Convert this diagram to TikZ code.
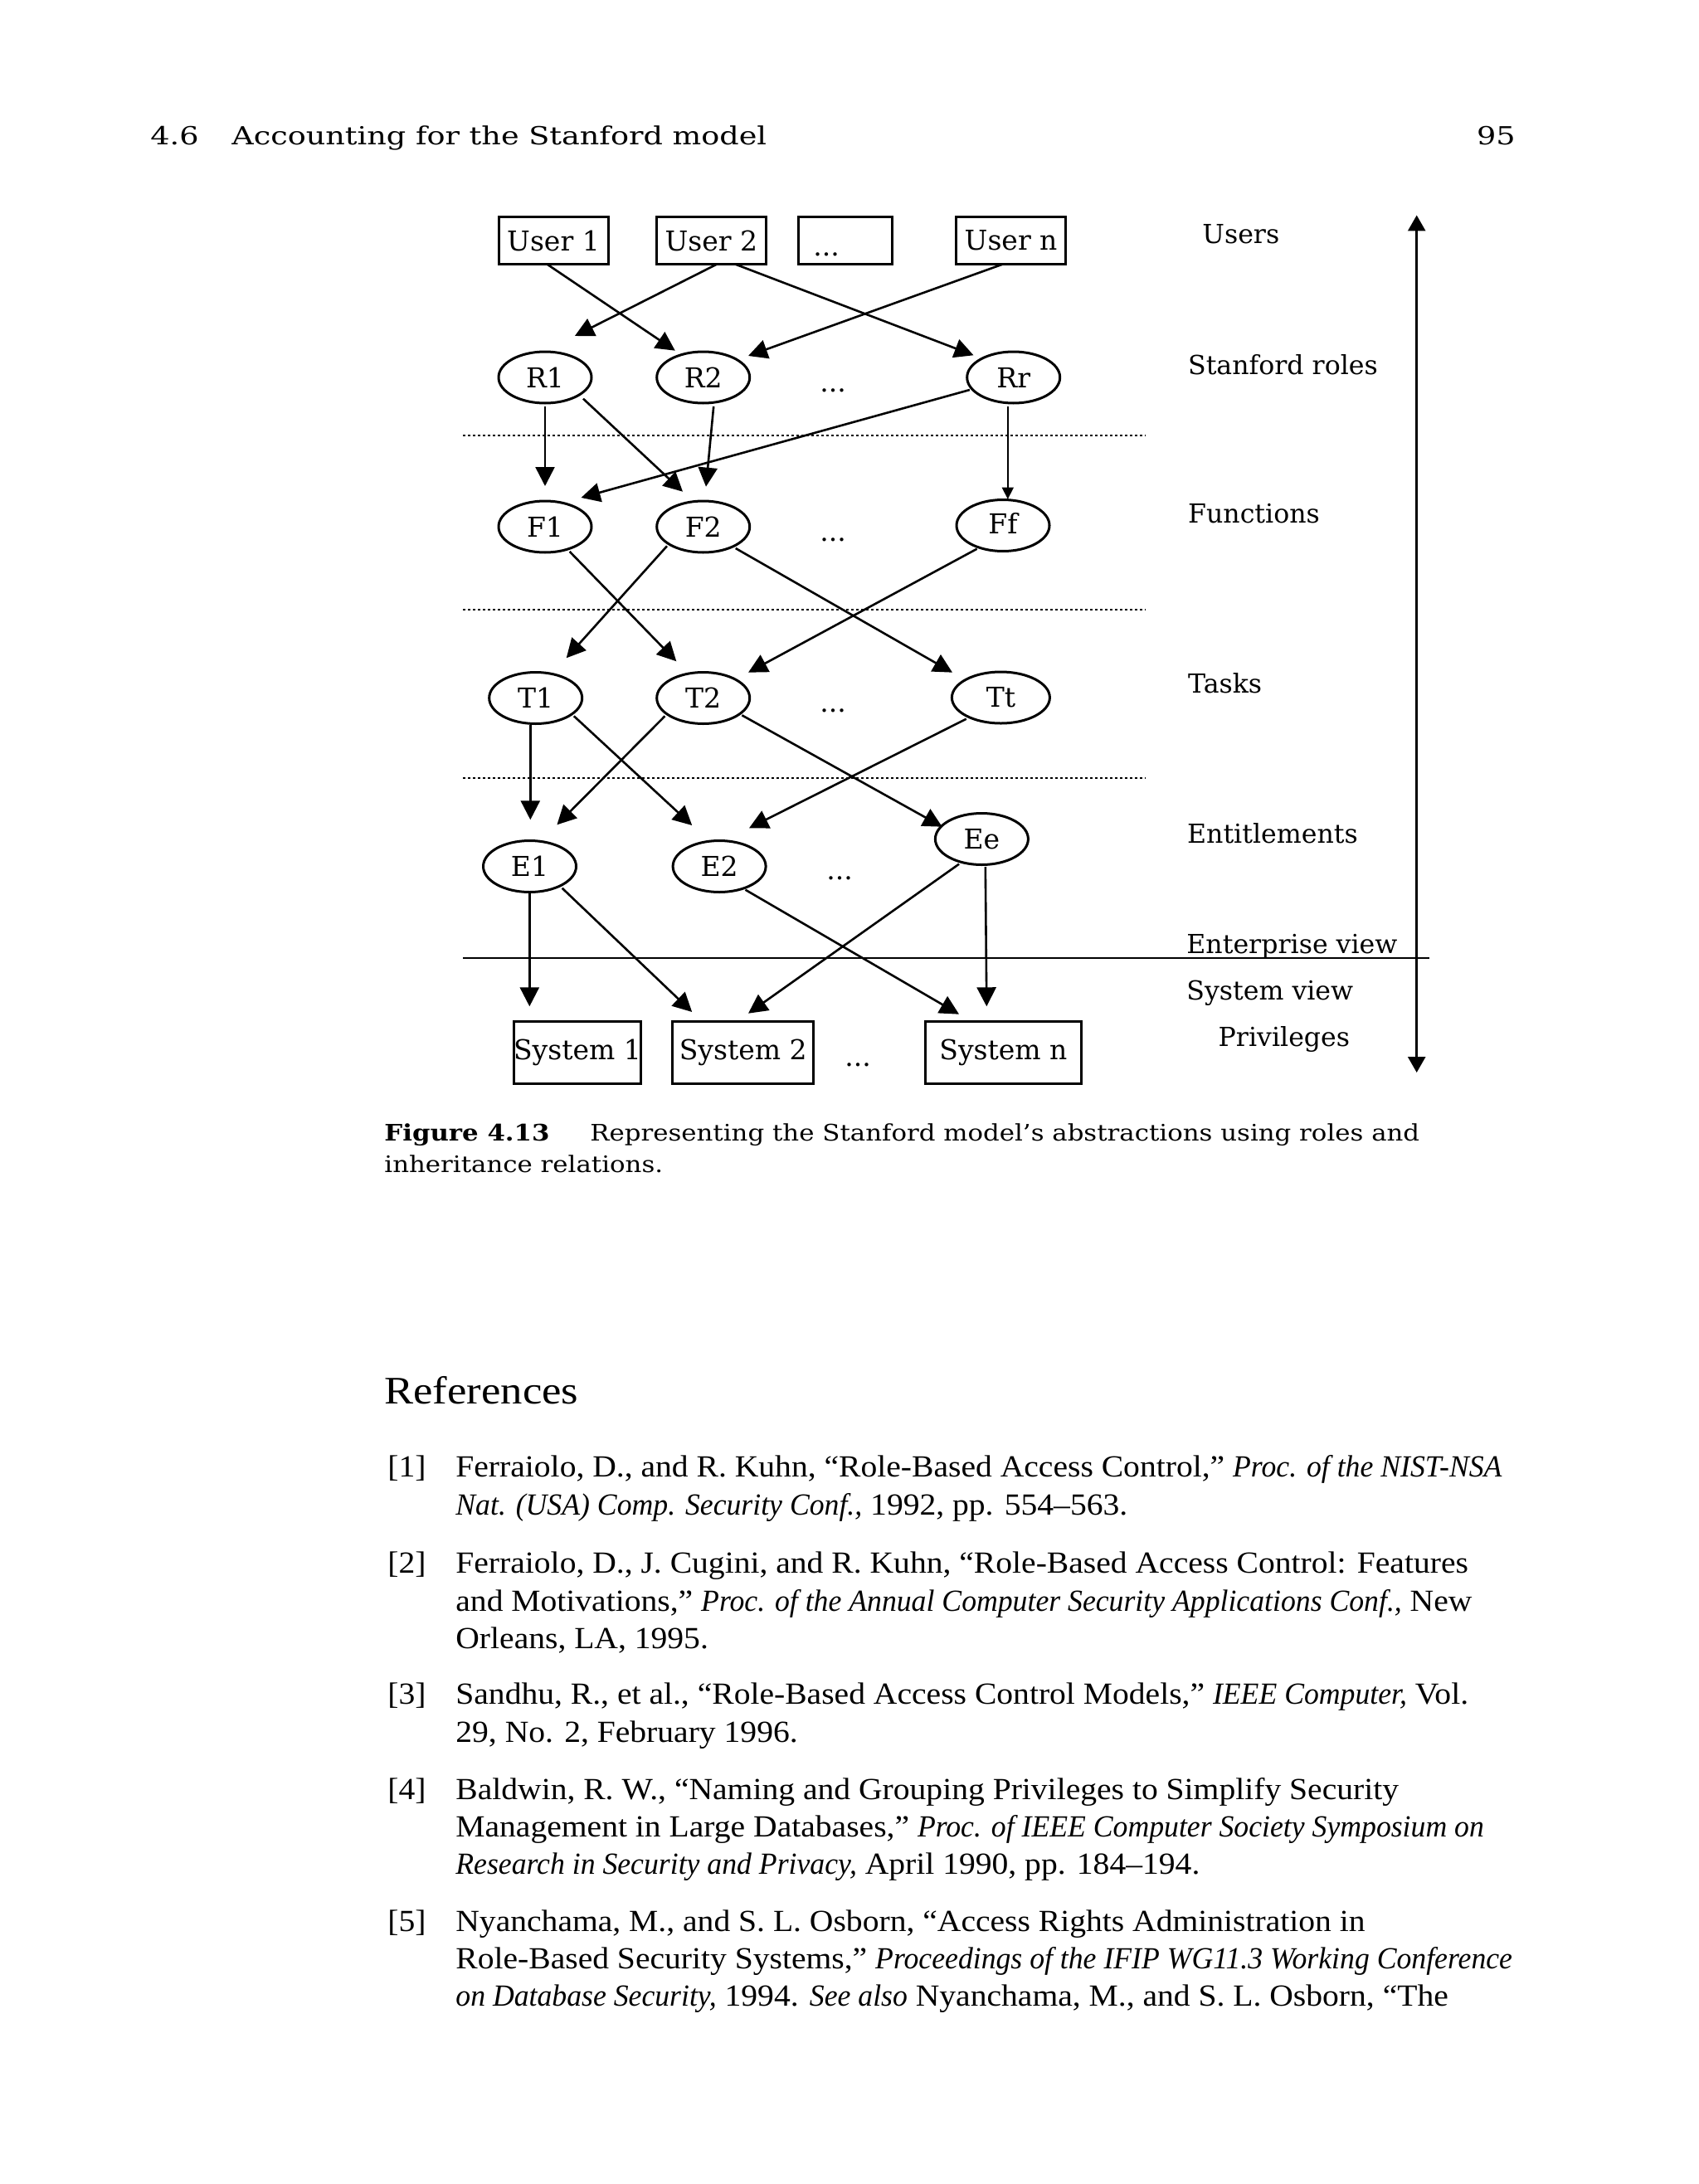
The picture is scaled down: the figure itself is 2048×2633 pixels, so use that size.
\documentclass[tikz,border=0pt]{standalone}
\usepackage{fontspec}
\setmainfont[UprightFeatures={FakeStretch=1.07},ItalicFeatures={FakeStretch=0.965}]{Liberation Serif}
\newfontfamily\slab{DejaVu Serif}
\newfontfamily\slabhdr[FakeStretch=1.22]{DejaVu Serif}
\newfontfamily\slabcap[FakeStretch=1.125]{DejaVu Serif}
\newfontfamily\refhead[FakeStretch=1.12]{Liberation Serif}
\usetikzlibrary{shapes.geometric,arrows.meta}
\newcommand{\nodefnt}{\slab\fontsize{16.5pt}{20pt}\selectfont}
\newcommand{\lblfnt}{\slab\fontsize{15.8pt}{19pt}\selectfont}
\newcommand{\hdrfnt}{\slabhdr\fontsize{15pt}{18pt}\selectfont}
\newcommand{\capfnt}{\slabcap\fontsize{13.7pt}{17pt}\selectfont}
\newcommand{\reffnt}{\fontsize{18.5pt}{22pt}\selectfont}
\newcommand{\refhfnt}{\refhead\fontsize{23.5pt}{28pt}\selectfont}
\tikzset{
  box/.style={draw, line width=1.5pt, rectangle, inner sep=0pt, minimum height=28pt, font=\nodefnt},
  ell/.style={draw, line width=1.5pt, ellipse, inner sep=0pt, minimum width=56pt, minimum height=31pt, font=\nodefnt},
  sysbox/.style={draw, line width=1.5pt, rectangle, inner sep=0pt, minimum height=37.5pt, font=\nodefnt},
  arr/.style={line width=1.3pt, -{Triangle[length=11.5pt,width=11.5pt]}},
  thinarr/.style={line width=0.8pt, -{Triangle[length=7pt,width=7pt]}},
  lbl/.style={anchor=base west, inner sep=0pt, font=\lblfnt},
  dotsty/.style={anchor=base, inner sep=0pt, font=\nodefnt},
  sepline/.style={line width=1.3pt, dash pattern=on 1.4pt off 1.6pt},
  txt/.style={anchor=base west, inner sep=0pt},
}
\newcommand{\conn}[7][arr]{\draw[#1] ([shift={(#3,#4)}]#2.center) -- ([shift={(#6,#7)}]#5.center);}
\begin{document}
\begin{tikzpicture}[x=0.5pt,y=-0.5pt]
\path[use as bounding box, fill=white] (0,0) rectangle (2048,2633);
% header
\node[txt, font=\hdrfnt] (h1) at (181,175) {4.6};
\node[txt, font=\hdrfnt] (h2) at (279,175) {Accounting for the Stanford model};
\node[anchor=base east, inner sep=0pt, font=\hdrfnt] (h3) at (1827,175) {95};
% users
\node[box, minimum width=66pt] (U1) at (667,290) {User 1};
\node[box, minimum width=66pt] (U2) at (857.4,290) {User 2};
\node[box, minimum width=56.5pt] (Ud) at (1019,290) {};
\node[dotsty] (Udt) at (996,308) {...};
\node[box, minimum width=66pt] (Un) at (1218.6,290) {User n};
% roles
\node[ell] (R1) at (657,455) {R1};
\node[ell] (R2) at (847.7,455) {R2};
\node[dotsty] (Rd) at (1004,472) {...};
\node[ell] (Rr) at (1221.7,455) {Rr};
% functions
\node[ell] (F1) at (657,635) {F1};
\node[ell] (F2) at (847.7,635) {F2};
\node[dotsty] (Fd) at (1004,652) {...};
\node[ell] (Ff) at (1209,633.5) {\raisebox{2.5pt}{Ff}};
% tasks
\node[ell] (T1) at (645.7,841.5) {T1};
\node[ell] (T2) at (847.7,841.5) {T2};
\node[dotsty] (Td) at (1004,858) {...};
\node[ell, minimum width=59pt] (Tt) at (1206.4,841) {Tt};
% entitlements
\node[ell] (E1) at (638.5,1044.5) {E1};
\node[ell] (E2) at (867.1,1044.5) {E2};
\node[dotsty] (Ed) at (1012,1060) {...};
\node[ell] (Ee) at (1183.4,1011.5) {Ee};
% systems
\node[sysbox, minimum width=75.5pt] (S1) at (696,1269) {System 1};
\node[sysbox, minimum width=85pt] (S2) at (895.7,1269) {System 2};
\node[dotsty] (Sd) at (1034,1285) {...};
\node[sysbox, minimum width=94pt] (Sn) at (1209.4,1269) {System n};
% separators
\coordinate (d1a) at (558,525); \coordinate (d1b) at (1381,525);
\coordinate (d2a) at (558,735); \coordinate (d2b) at (1381,735);
\coordinate (d3a) at (558,938); \coordinate (d3b) at (1381,938);
\draw[sepline] (d1a) -- (d1b);
\draw[sepline] (d2a) -- (d2b);
\draw[sepline] (d3a) -- (d3b);
\coordinate (sla) at (558,1155); \coordinate (slb) at (1723,1155);
\draw[line width=1.4pt] (sla) -- (slb);
% vertical arrow
\coordinate (va) at (1707.7,1293); \coordinate (vb) at (1707.7,259.5);
\draw[line width=1.4pt, {Triangle[length=9.5pt,width=10.5pt]}-{Triangle[length=9.5pt,width=10.5pt]}] (va) -- (vb);
% labels
\node[lbl] (lU) at (1449,293) {Users};
\node[lbl] (lR) at (1431.7,451) {Stanford roles};
\node[lbl] (lF) at (1431.7,630) {Functions};
\node[lbl] (lT) at (1431.7,835) {Tasks};
\node[lbl] (lE) at (1430.7,1016) {Entitlements};
\node[lbl] (lEv) at (1430,1149) {Enterprise view};
\node[lbl] (lSv) at (1430,1205) {System view};
\node[lbl] (lP) at (1468.3,1261) {Privileges};
% connectors
\conn{U1}{-7.3}{28.7}{R2}{-33.9}{-32.3}
\conn{U2}{6.4}{28.7}{R1}{35.9}{-50}
\conn{U2}{29.3}{28.7}{Rr}{-48.2}{-26.7}
\conn{Un}{-10.4}{28.7}{R2}{54.3}{-26}
\conn{R1}{0}{35}{F1}{0}{-49}
\conn{R1}{46}{25.7}{F2}{-24.7}{-42.3}
\conn{R2}{12.5}{35}{F2}{3.3}{-48.3}
\conn{Rr}{-52.8}{15}{F1}{43.5}{-35}
\conn[thinarr]{Rr}{-6.9}{35}{Ff}{5.8}{-31.8}
\conn{F1}{29.7}{30}{T2}{-32.4}{-44.2}
\conn{F2}{-43.7}{23.3}{T1}{37}{-48.2}
\conn{F2}{39}{26}{Tt}{-58.4}{-30.3}
\conn{Ff}{-31.4}{28.2}{T2}{54.3}{-30.8}
\conn{T1}{-6.4}{32.5}{E1}{0.8}{-56.2}
\conn{T1}{46.1}{21.8}{E2}{-32.9}{-49.5}
\conn{T2}{-46.2}{21.8}{E1}{32.9}{-50.2}
\conn{T2}{46.7}{20.8}{Ee}{-47.7}{-14.8}
\conn{Tt}{-41.6}{25.7}{E2}{35.9}{-46.2}
\conn{E1}{-0.2}{32.2}{S1}{-57.7}{-55.7}
\conn{E1}{39.1}{26.2}{S2}{-61.5}{-49}
\conn{E2}{31.4}{28.2}{Sn}{-53.4}{-46.3}
\conn{Ee}{-27.4}{30.2}{S2}{6.3}{-47.3}
\conn{Ee}{4.4}{33.5}{Sn}{-20.1}{-55.7}
% caption
\node[txt, font=\capfnt\bfseries] (cap1) at (463,1375) {Figure 4.13};
\node[txt, font=\capfnt] (cap2) at (711,1375) {Representing the Stanford model’s abstractions using roles and};
\node[txt, font=\capfnt] (cap3) at (463,1413) {inheritance relations.};
% references
\node[txt, font=\refhfnt] (refh) at (463,1692) {References};
\node[txt, font=\reffnt] (n1) at (467,1780) {[1]};
\node[txt, font=\reffnt] (r1a) at (549,1780) {Ferraiolo, D., and R. Kuhn, “Role-Based Access Control,” \textit{Proc. of the NIST-NSA}};
\node[txt, font=\reffnt] (r1b) at (549,1826) {\textit{Nat. (USA) Comp. Security Conf.,} 1992, pp. 554–563.};
\node[txt, font=\reffnt] (n2) at (467,1896) {[2]};
\node[txt, font=\reffnt] (r2a) at (549,1896) {Ferraiolo, D., J. Cugini, and R. Kuhn, “Role-Based Access Control: Features};
\node[txt, font=\reffnt] (r2b) at (549,1942) {and Motivations,” \textit{Proc. of the Annual Computer Security Applications Conf.,} New};
\node[txt, font=\reffnt] (r2c) at (549,1987) {Orleans, LA, 1995.};
\node[txt, font=\reffnt] (n3) at (467,2054) {[3]};
\node[txt, font=\reffnt] (r3a) at (549,2054) {Sandhu, R., et al., “Role-Based Access Control Models,” \textit{IEEE Computer,} Vol.};
\node[txt, font=\reffnt] (r3b) at (549,2100) {29, No. 2, February 1996.};
\node[txt, font=\reffnt] (n4) at (467,2169) {[4]};
\node[txt, font=\reffnt] (r4a) at (549,2169) {Baldwin, R. W., “Naming and Grouping Privileges to Simplify Security};
\node[txt, font=\reffnt] (r4b) at (549,2214) {Management in Large Databases,” \textit{Proc. of IEEE Computer Society Symposium on}};
\node[txt, font=\reffnt] (r4c) at (549,2259) {\textit{Research in Security and Privacy,} April 1990, pp. 184–194.};
\node[txt, font=\reffnt] (n5) at (467,2328) {[5]};
\node[txt, font=\reffnt] (r5a) at (549,2328) {Nyanchama, M., and S. L. Osborn, “Access Rights Administration in};
\node[txt, font=\reffnt] (r5b) at (549,2373) {Role-Based Security Systems,” \textit{Proceedings of the IFIP WG11.3 Working Conference}};
\node[txt, font=\reffnt] (r5c) at (549,2418) {\textit{on Database Security,} 1994. \textit{See also} Nyanchama, M., and S. L. Osborn, “The};
\end{tikzpicture}
\end{document}
